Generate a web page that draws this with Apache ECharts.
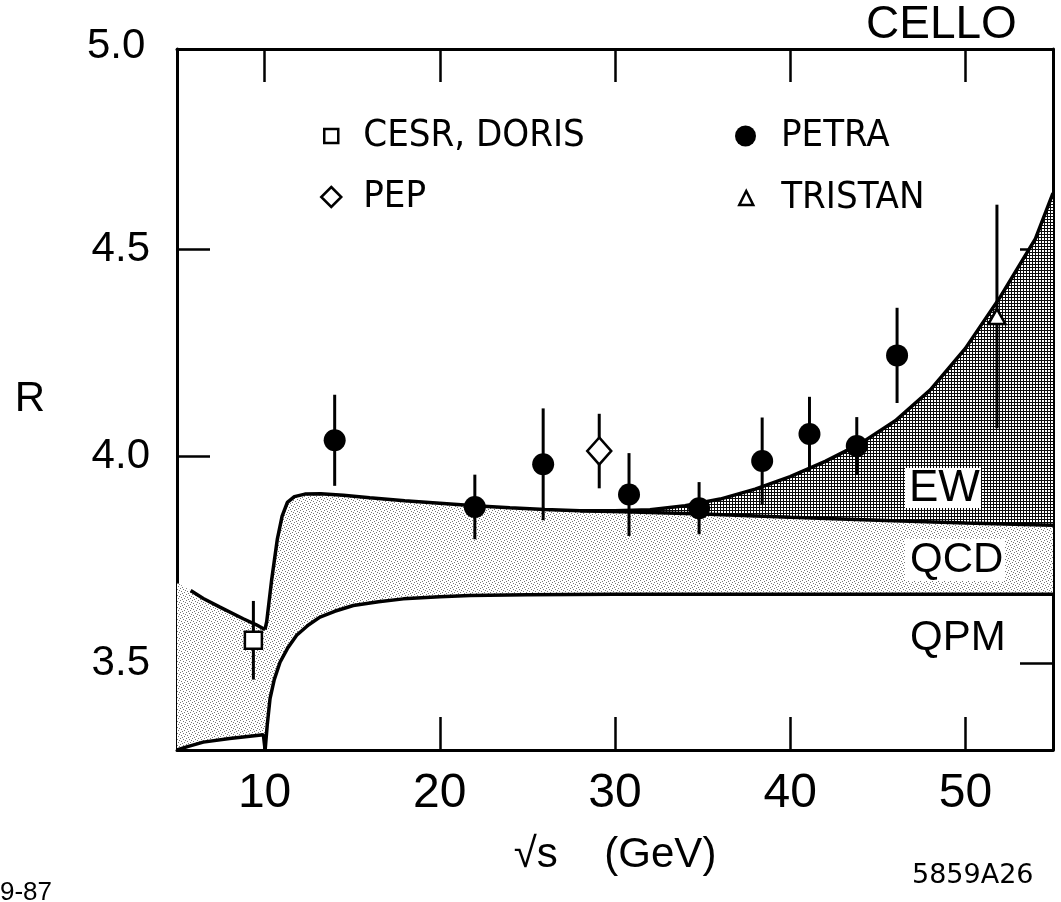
<!DOCTYPE html>
<html>
<head>
<meta charset="utf-8">
<script src="https://cdn.jsdelivr.net/npm/echarts@6/dist/echarts.min.js"></script>
<style>
  html, body { margin: 0; padding: 0; background: #fff; }
  #chart { width: 1061px; height: 902px; }
</style>
</head>
<body>
<div id="chart"></div>
<script>
// R = sigma(e+e- -> hadrons) / sigma(e+e- -> mu+mu-) against the c.m. energy

// axis ticks
const xTicks = [10, 20, 30, 40, 50];
const yTicks = [3.5, 4.0, 4.5, 5.0];

// measurements: [sqrt(s) in GeV, R, error]
const cesrDoris = [[9.36, 3.555, 0.095]];
const pep = [[29.1, 4.012, 0.09]];
const petra = [
  [14.0, 4.038, 0.11],
  [22.0, 3.877, 0.078],
  [25.9, 3.98, 0.135],
  [30.8, 3.907, 0.10],
  [34.8, 3.874, 0.063],
  [38.4, 3.988, 0.105],
  [41.1, 4.053, 0.09],
  [43.8, 4.024, 0.07],
  [46.1, 4.243, 0.115]
];
const tristan = [[51.8, 4.337, 0.27]];

// theory: quark parton model, below and above the b threshold
const qpmLow = [[5.0, 3.29], [5.6, 3.298], [6.5, 3.309], [8.0, 3.318], [9.93, 3.327], [10.03, 3.29]];
const qpmRise = [
  [10.03, 3.29], [10.15, 3.35], [10.31, 3.414], [10.55, 3.46], [10.88, 3.502], [11.3, 3.535],
  [11.83, 3.567], [12.5, 3.592], [13.16, 3.611], [14.0, 3.625], [15.06, 3.639], [16.5, 3.648],
  [17.92, 3.655], [20.0, 3.66], [21.72, 3.663], [25.0, 3.665], [30.0, 3.666], [55.0, 3.666]
];
// theory: QCD corrected R below the b threshold
const leftUpper = [[5.78, 3.675], [6.5, 3.656], [7.45, 3.635], [8.78, 3.607], [9.5, 3.593], [10.02, 3.581]];
const leftUpperEdge = [5.0, 3.694];
// theory: QCD (+ electroweak) above the b threshold, common part
const thresholdUpper = [
  [10.02, 3.581], [10.12, 3.60], [10.4, 3.70], [10.73, 3.80], [11.0, 3.855], [11.3, 3.888],
  [11.7, 3.902], [12.3, 3.908], [13.2, 3.909], [14.5, 3.905], [16.0, 3.899], [18.0, 3.892],
  [20.0, 3.886], [22.0, 3.88], [24.0, 3.875], [26.0, 3.871], [28.0, 3.868]
];
// theory: QCD only, above 28 GeV
const qcdHigh = [[28, 3.868], [31, 3.865], [35, 3.860], [40, 3.852], [45, 3.845], [50, 3.838], [55, 3.833]];
// theory: QCD + electroweak (Z0 propagator), above 28 GeV
const ewHigh = [
  [28, 3.868], [30, 3.868], [32, 3.87], [34, 3.88], [36, 3.896], [38, 3.92], [40, 3.95],
  [42, 3.987], [44, 4.03], [46, 4.085], [48, 4.16], [50, 4.26], [52, 4.385], [54, 4.525], [55, 4.635]
];

const X_MIN = 5, X_MAX = 55, Y_MIN = 3.29, Y_MAX = 4.983;
const FONT = "'Liberation Sans', Arial, sans-serif";
const NARROW = "'Liberation Sans Narrow', 'DejaVu Sans Condensed', 'Liberation Sans', sans-serif";

// fill textures
function makeTile(size, dots, ink, bg) {
  const c = document.createElement('canvas');
  c.width = c.height = size;
  const g = c.getContext('2d');
  g.fillStyle = bg; g.fillRect(0, 0, size, size);
  g.fillStyle = ink;
  dots.forEach(([x, y]) => g.fillRect(x, y, 1, 1));
  return c;
}
const stipple = makeTile(6, [[0, 0], [3, 1], [5, 2], [1, 3], [4, 4], [2, 5]], '#767676', '#ffffff');
const meshDots = [];
for (let i = 0; i < 3; i++) { meshDots.push([i, 0]); meshDots.push([0, i]); }
const mesh = makeTile(3, meshDots, '#0a0a0a', '#ffffff');

const qcdBand = [leftUpperEdge, ...leftUpper, ...thresholdUpper.slice(1), ...qcdHigh.slice(1)]
  .concat([...qpmLow, ...qpmRise.slice(1)].reverse());
const ewBand = ewHigh.concat(qcdHigh.slice().reverse());

function bandSeries(points, fill) {
  return {
    type: 'custom', silent: true, z: 1, clip: true,
    data: [0],
    renderItem: (params, api) => ({
      type: 'polygon',
      shape: { points: points.map(p => api.coord(p)) },
      style: { fill: { image: fill, repeat: 'repeat' }, stroke: null }
    })
  };
}
function curve(data) {
  return {
    type: 'line', data, showSymbol: false, silent: true, z: 2, smooth: false,
    lineStyle: { color: '#000', width: 3.5 }
  };
}

const errorData = [...cesrDoris, ...pep, ...petra, ...tristan];
const openStyle = { color: '#fff', borderColor: '#000', borderWidth: 2.5, opacity: 1 };

const chart = echarts.init(document.getElementById('chart'), null, { renderer: 'canvas' });

const axisLine = { show: true, onZero: false, lineStyle: { color: '#000', width: 3 } };
const tick = vals => ({ show: true, inside: true, length: 33, customValues: vals, lineStyle: { color: '#000', width: 2.5 } });

// one legend block per entry so each marker keeps its own size
function legendItem(name, icon, size, left, top, gap) {
  return {
    data: [{ name, icon }],
    left, top, padding: 0, itemWidth: size, itemHeight: size, itemGap: 0,
    selectedMode: false,
    itemStyle: name === 'PETRA' ? { color: '#000', opacity: 1 } : openStyle,
    textStyle: { fontFamily: NARROW, fontSize: 38, color: '#000', padding: [0, 0, 0, gap] }
  };
}

chart.setOption({
  animation: false,
  backgroundColor: '#fff',
  grid: { left: 177, right: 8, top: 49, bottom: 152 },
  legend: [
    legendItem('CESR, DORIS', 'rect', 14, 323, 117, 20),
    legendItem('PEP', 'diamond', 20, 320, 178, 17),
    legendItem('PETRA', 'circle', 21, 735, 117, 20),
    legendItem('TRISTAN', 'triangle', 14, 738, 179, 23)
  ],
  xAxis: [
    {
      type: 'value', min: X_MIN, max: X_MAX, position: 'bottom',
      axisLine, axisTick: tick(xTicks), splitLine: { show: false },
      axisLabel: { customValues: xTicks, margin: 20, fontFamily: FONT, fontSize: 48, color: '#000' },
      name: '√s    (GeV)', nameLocation: 'middle', nameGap: 84,
      nameTextStyle: { fontFamily: FONT, fontSize: 42, color: '#000' }
    },
    {
      type: 'value', min: X_MIN, max: X_MAX, position: 'top',
      axisLine, axisTick: tick(xTicks), splitLine: { show: false }, axisLabel: { show: false }
    }
  ],
  yAxis: [
    {
      type: 'value', min: Y_MIN, max: Y_MAX, position: 'left',
      axisLine, axisTick: tick(yTicks), splitLine: { show: false },
      axisLabel: {
        customValues: yTicks, margin: 27, fontFamily: FONT, fontSize: 42, color: '#000',
        padding: [10, 0, 0, 0], formatter: v => v.toFixed(1)
      },
      name: 'R', nameLocation: 'middle', nameRotate: 0, nameGap: 132,
      nameTextStyle: { fontFamily: FONT, fontSize: 42, color: '#000' }
    },
    {
      type: 'value', min: Y_MIN, max: Y_MAX, position: 'right',
      axisLine, axisTick: tick(yTicks), splitLine: { show: false }, axisLabel: { show: false }
    }
  ],
  series: [
    bandSeries(qcdBand, stipple),
    bandSeries(ewBand, mesh),
    curve(qpmLow), curve(qpmRise), curve(leftUpper), curve(thresholdUpper), curve(qcdHigh), curve(ewHigh),
    {
      type: 'custom', silent: true, z: 3, data: errorData, encode: { x: 0, y: 1 },
      renderItem: (params, api) => {
        const x = api.value(0), y = api.value(1), e = api.value(2);
        const a = api.coord([x, y - e]), b = api.coord([x, y + e]);
        return { type: 'line', shape: { x1: a[0], y1: a[1], x2: b[0], y2: b[1] }, style: { stroke: '#000', lineWidth: 3 } };
      }
    },
    { name: 'CESR, DORIS', type: 'scatter', z: 4, data: cesrDoris, symbol: 'rect', symbolSize: 17, itemStyle: openStyle },
    { name: 'PEP', type: 'scatter', z: 4, data: pep, symbol: 'diamond', symbolSize: [24, 27], itemStyle: openStyle },
    { name: 'PETRA', type: 'scatter', z: 4, data: petra, symbol: 'circle', symbolSize: 22, itemStyle: { color: '#000', opacity: 1 } },
    { name: 'TRISTAN', type: 'scatter', z: 4, data: tristan, symbol: 'triangle', symbolSize: [17, 15], itemStyle: openStyle }
  ]
});

// annotations
const y50 = chart.convertToPixel({ yAxisIndex: 0 }, yTicks[3]);
const labelBox = { fill: '#fff' };
chart.setOption({
  graphic: [
    { type: 'text', left: 87, top: y50 - 17, style: { text: yTicks[3].toFixed(1), font: `42px ${FONT}`, fill: '#000' } },
    { type: 'text', left: 866, top: 2, style: { text: 'CELLO', font: `46px ${FONT}`, fill: '#000' } },
    { type: 'rect', left: 905, top: 468, shape: { width: 76, height: 40 }, style: labelBox, z: 10 },
    { type: 'text', left: 909, top: 467, z: 11, style: { text: 'EW', font: `44px ${FONT}`, fill: '#000' } },
    { type: 'rect', left: 905, top: 539, shape: { width: 100, height: 42 }, style: labelBox, z: 10 },
    { type: 'text', left: 910, top: 539, z: 11, style: { text: 'QCD', font: `42px ${FONT}`, fill: '#000' } },
    { type: 'text', left: 910, top: 617, z: 11, style: { text: 'QPM', font: `42px ${FONT}`, fill: '#000' } },
    { type: 'text', left: 0, top: 880, style: { text: '9-87', font: `26px ${FONT}`, fill: '#000' } },
    { type: 'text', left: 912, top: 862, style: { text: '5859A26', font: `27px 'DejaVu Sans', ${FONT}`, fill: '#000' } }
  ]
});
</script>
</body>
</html>
